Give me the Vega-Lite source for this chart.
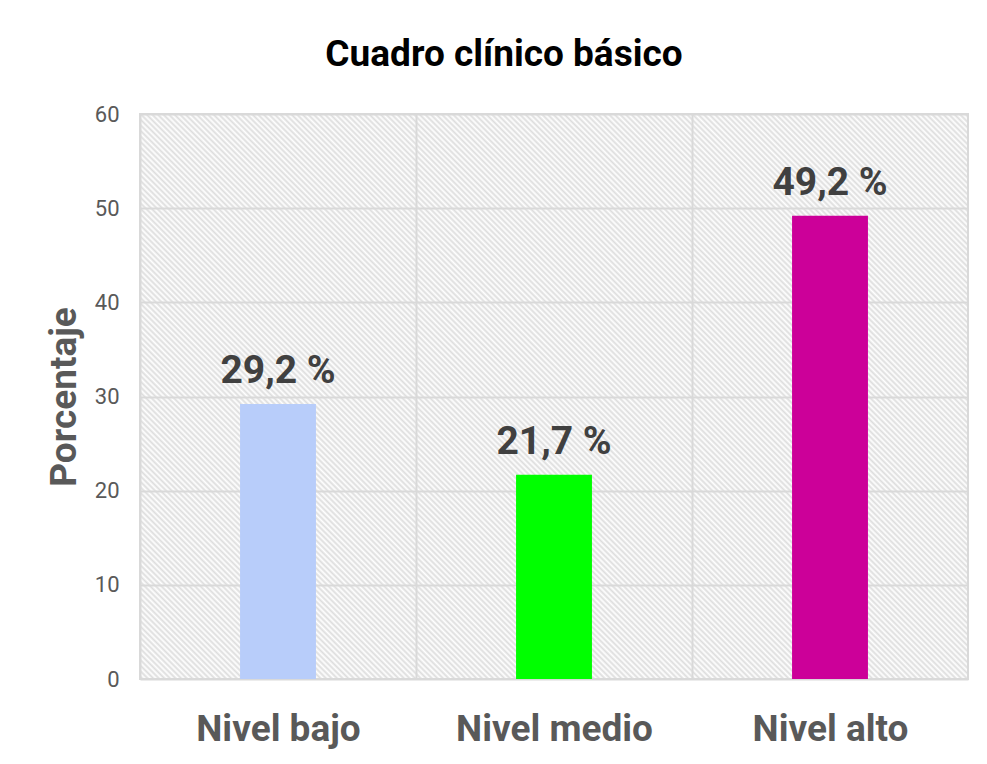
{
  "$schema": "https://vega.github.io/schema/vega-lite/v6.json",
  "width": 828,
  "height": 565,
  "autosize": "none",
  "padding": {"left": 140, "top": 114, "right": 19, "bottom": 85},
  "background": "white",
  "title": {
    "text": "Cuadro clínico básico",
    "fontSize": 37,
    "fontWeight": "bold",
    "color": "#000000",
    "font": "Roboto",
    "anchor": "middle",
    "frame": "group",
    "dx": -50,
    "baseline": "alphabetic",
    "offset": 0
  },
  "data": {
    "values": [
      {"nivel": "Nivel bajo", "pct": 29.2, "label": "29,2 %"},
      {"nivel": "Nivel medio", "pct": 21.7, "label": "21,7 %"},
      {"nivel": "Nivel alto", "pct": 49.2, "label": "49,2 %"}
    ]
  },
  "encoding": {
    "x": {
      "field": "nivel",
      "type": "nominal",
      "sort": ["Nivel bajo", "Nivel medio", "Nivel alto"],
      "scale": {"paddingInner": 0.725, "paddingOuter": 0.3625},
      "axis": {
        "title": null,
        "labelAngle": 0,
        "labelLimit": 0,
        "domain": false,
        "ticks": false,
        "tickSize": 0,
        "grid": true,
        "gridColor": "#d9d9d9",
        "gridWidth": 2,
        "tickOffset": -138,
        "labelOffset": 138,
        "labelPadding": 32,
        "labelFontSize": 37,
        "labelFontWeight": "bold",
        "labelColor": "#595959",
        "labelFont": "Roboto"
      }
    },
    "y": {
      "field": "pct",
      "type": "quantitative",
      "scale": {"domain": [0, 60], "nice": false},
      "axis": {
        "values": [0, 10, 20, 30, 40, 50, 60],
        "title": "Porcentaje",
        "grid": true,
        "gridColor": "#d9d9d9",
        "gridWidth": 2,
        "domain": false,
        "ticks": false,
        "tickSize": 0,
        "labelPadding": 21,
        "labelFontSize": 22,
        "labelColor": "#595959",
        "labelFont": "Roboto",
        "titleFontSize": 37,
        "titleFontWeight": "bold",
        "titleColor": "#595959",
        "titleFont": "Roboto",
        "titlePadding": 11
      }
    }
  },
  "layer": [
    {
      "mark": {"type": "bar"},
      "encoding": {
        "color": {
          "field": "nivel",
          "type": "nominal",
          "scale": {"domain": ["Nivel bajo", "Nivel medio", "Nivel alto"], "range": ["#b8cdfa", "#00ff00", "#cc0099"]},
          "legend": null
        }
      }
    },
    {
      "mark": {
        "type": "text",
        "baseline": "alphabetic",
        "dy": -21,
        "fontSize": 39,
        "fontWeight": "bold",
        "color": "#404040",
        "font": "Roboto"
      },
      "encoding": {"text": {"field": "label"}}
    }
  ],
  "config": {
    "view": {
      "stroke": "#d9d9d9",
      "strokeWidth": 2,
      "fill": {
        "gradient": "linear",
        "x1": -0.4656, "y1": 0.3177, "x2": 0.6823, "y2": -0.4656,
        "stops": [
{"offset":0,"color":"#fff"},{"offset":0.002,"color":"#ddd"},{"offset":0.004,"color":"#fff"},{"offset":0.006,"color":"#ddd"},{"offset":0.008,"color":"#fff"},
{"offset":0.01,"color":"#ddd"},{"offset":0.012,"color":"#fff"},{"offset":0.014,"color":"#ddd"},{"offset":0.016,"color":"#fff"},{"offset":0.018,"color":"#ddd"},
{"offset":0.02,"color":"#fff"},{"offset":0.022,"color":"#ddd"},{"offset":0.024,"color":"#fff"},{"offset":0.026,"color":"#ddd"},{"offset":0.028,"color":"#fff"},
{"offset":0.03,"color":"#ddd"},{"offset":0.032,"color":"#fff"},{"offset":0.034,"color":"#ddd"},{"offset":0.036,"color":"#fff"},{"offset":0.038,"color":"#ddd"},
{"offset":0.04,"color":"#fff"},{"offset":0.042,"color":"#ddd"},{"offset":0.044,"color":"#fff"},{"offset":0.046,"color":"#ddd"},{"offset":0.048,"color":"#fff"},
{"offset":0.05,"color":"#ddd"},{"offset":0.052,"color":"#fff"},{"offset":0.054,"color":"#ddd"},{"offset":0.056,"color":"#fff"},{"offset":0.058,"color":"#ddd"},
{"offset":0.06,"color":"#fff"},{"offset":0.062,"color":"#ddd"},{"offset":0.064,"color":"#fff"},{"offset":0.066,"color":"#ddd"},{"offset":0.068,"color":"#fff"},
{"offset":0.07,"color":"#ddd"},{"offset":0.072,"color":"#fff"},{"offset":0.074,"color":"#ddd"},{"offset":0.076,"color":"#fff"},{"offset":0.078,"color":"#ddd"},
{"offset":0.08,"color":"#fff"},{"offset":0.082,"color":"#ddd"},{"offset":0.084,"color":"#fff"},{"offset":0.086,"color":"#ddd"},{"offset":0.088,"color":"#fff"},
{"offset":0.09,"color":"#ddd"},{"offset":0.092,"color":"#fff"},{"offset":0.094,"color":"#ddd"},{"offset":0.096,"color":"#fff"},{"offset":0.098,"color":"#ddd"},
{"offset":0.1,"color":"#fff"},{"offset":0.102,"color":"#ddd"},{"offset":0.104,"color":"#fff"},{"offset":0.106,"color":"#ddd"},{"offset":0.108,"color":"#fff"},
{"offset":0.11,"color":"#ddd"},{"offset":0.112,"color":"#fff"},{"offset":0.114,"color":"#ddd"},{"offset":0.116,"color":"#fff"},{"offset":0.118,"color":"#ddd"},
{"offset":0.12,"color":"#fff"},{"offset":0.122,"color":"#ddd"},{"offset":0.124,"color":"#fff"},{"offset":0.126,"color":"#ddd"},{"offset":0.128,"color":"#fff"},
{"offset":0.13,"color":"#ddd"},{"offset":0.132,"color":"#fff"},{"offset":0.134,"color":"#ddd"},{"offset":0.136,"color":"#fff"},{"offset":0.138,"color":"#ddd"},
{"offset":0.14,"color":"#fff"},{"offset":0.142,"color":"#ddd"},{"offset":0.144,"color":"#fff"},{"offset":0.146,"color":"#ddd"},{"offset":0.148,"color":"#fff"},
{"offset":0.15,"color":"#ddd"},{"offset":0.152,"color":"#fff"},{"offset":0.154,"color":"#ddd"},{"offset":0.156,"color":"#fff"},{"offset":0.158,"color":"#ddd"},
{"offset":0.16,"color":"#fff"},{"offset":0.162,"color":"#ddd"},{"offset":0.164,"color":"#fff"},{"offset":0.166,"color":"#ddd"},{"offset":0.168,"color":"#fff"},
{"offset":0.17,"color":"#ddd"},{"offset":0.172,"color":"#fff"},{"offset":0.174,"color":"#ddd"},{"offset":0.176,"color":"#fff"},{"offset":0.178,"color":"#ddd"},
{"offset":0.18,"color":"#fff"},{"offset":0.182,"color":"#ddd"},{"offset":0.184,"color":"#fff"},{"offset":0.186,"color":"#ddd"},{"offset":0.188,"color":"#fff"},
{"offset":0.19,"color":"#ddd"},{"offset":0.192,"color":"#fff"},{"offset":0.194,"color":"#ddd"},{"offset":0.196,"color":"#fff"},{"offset":0.198,"color":"#ddd"},
{"offset":0.2,"color":"#fff"},{"offset":0.202,"color":"#ddd"},{"offset":0.204,"color":"#fff"},{"offset":0.206,"color":"#ddd"},{"offset":0.208,"color":"#fff"},
{"offset":0.21,"color":"#ddd"},{"offset":0.212,"color":"#fff"},{"offset":0.214,"color":"#ddd"},{"offset":0.216,"color":"#fff"},{"offset":0.218,"color":"#ddd"},
{"offset":0.22,"color":"#fff"},{"offset":0.222,"color":"#ddd"},{"offset":0.224,"color":"#fff"},{"offset":0.226,"color":"#ddd"},{"offset":0.228,"color":"#fff"},
{"offset":0.23,"color":"#ddd"},{"offset":0.232,"color":"#fff"},{"offset":0.234,"color":"#ddd"},{"offset":0.236,"color":"#fff"},{"offset":0.238,"color":"#ddd"},
{"offset":0.24,"color":"#fff"},{"offset":0.242,"color":"#ddd"},{"offset":0.244,"color":"#fff"},{"offset":0.246,"color":"#ddd"},{"offset":0.248,"color":"#fff"},
{"offset":0.25,"color":"#ddd"},{"offset":0.252,"color":"#fff"},{"offset":0.254,"color":"#ddd"},{"offset":0.256,"color":"#fff"},{"offset":0.258,"color":"#ddd"},
{"offset":0.26,"color":"#fff"},{"offset":0.262,"color":"#ddd"},{"offset":0.264,"color":"#fff"},{"offset":0.266,"color":"#ddd"},{"offset":0.268,"color":"#fff"},
{"offset":0.27,"color":"#ddd"},{"offset":0.272,"color":"#fff"},{"offset":0.274,"color":"#ddd"},{"offset":0.276,"color":"#fff"},{"offset":0.278,"color":"#ddd"},
{"offset":0.28,"color":"#fff"},{"offset":0.282,"color":"#ddd"},{"offset":0.284,"color":"#fff"},{"offset":0.286,"color":"#ddd"},{"offset":0.288,"color":"#fff"},
{"offset":0.29,"color":"#ddd"},{"offset":0.292,"color":"#fff"},{"offset":0.294,"color":"#ddd"},{"offset":0.296,"color":"#fff"},{"offset":0.298,"color":"#ddd"},
{"offset":0.3,"color":"#fff"},{"offset":0.302,"color":"#ddd"},{"offset":0.304,"color":"#fff"},{"offset":0.306,"color":"#ddd"},{"offset":0.308,"color":"#fff"},
{"offset":0.31,"color":"#ddd"},{"offset":0.312,"color":"#fff"},{"offset":0.314,"color":"#ddd"},{"offset":0.316,"color":"#fff"},{"offset":0.318,"color":"#ddd"},
{"offset":0.32,"color":"#fff"},{"offset":0.322,"color":"#ddd"},{"offset":0.324,"color":"#fff"},{"offset":0.326,"color":"#ddd"},{"offset":0.328,"color":"#fff"},
{"offset":0.33,"color":"#ddd"},{"offset":0.332,"color":"#fff"},{"offset":0.334,"color":"#ddd"},{"offset":0.336,"color":"#fff"},{"offset":0.338,"color":"#ddd"},
{"offset":0.34,"color":"#fff"},{"offset":0.342,"color":"#ddd"},{"offset":0.344,"color":"#fff"},{"offset":0.346,"color":"#ddd"},{"offset":0.348,"color":"#fff"},
{"offset":0.35,"color":"#ddd"},{"offset":0.352,"color":"#fff"},{"offset":0.354,"color":"#ddd"},{"offset":0.356,"color":"#fff"},{"offset":0.358,"color":"#ddd"},
{"offset":0.36,"color":"#fff"},{"offset":0.362,"color":"#ddd"},{"offset":0.364,"color":"#fff"},{"offset":0.366,"color":"#ddd"},{"offset":0.368,"color":"#fff"},
{"offset":0.37,"color":"#ddd"},{"offset":0.372,"color":"#fff"},{"offset":0.374,"color":"#ddd"},{"offset":0.376,"color":"#fff"},{"offset":0.378,"color":"#ddd"},
{"offset":0.38,"color":"#fff"},{"offset":0.382,"color":"#ddd"},{"offset":0.384,"color":"#fff"},{"offset":0.386,"color":"#ddd"},{"offset":0.388,"color":"#fff"},
{"offset":0.39,"color":"#ddd"},{"offset":0.392,"color":"#fff"},{"offset":0.394,"color":"#ddd"},{"offset":0.396,"color":"#fff"},{"offset":0.398,"color":"#ddd"},
{"offset":0.4,"color":"#fff"},{"offset":0.402,"color":"#ddd"},{"offset":0.404,"color":"#fff"},{"offset":0.406,"color":"#ddd"},{"offset":0.408,"color":"#fff"},
{"offset":0.41,"color":"#ddd"},{"offset":0.412,"color":"#fff"},{"offset":0.414,"color":"#ddd"},{"offset":0.416,"color":"#fff"},{"offset":0.418,"color":"#ddd"},
{"offset":0.42,"color":"#fff"},{"offset":0.422,"color":"#ddd"},{"offset":0.424,"color":"#fff"},{"offset":0.426,"color":"#ddd"},{"offset":0.428,"color":"#fff"},
{"offset":0.43,"color":"#ddd"},{"offset":0.432,"color":"#fff"},{"offset":0.434,"color":"#ddd"},{"offset":0.436,"color":"#fff"},{"offset":0.438,"color":"#ddd"},
{"offset":0.44,"color":"#fff"},{"offset":0.442,"color":"#ddd"},{"offset":0.444,"color":"#fff"},{"offset":0.446,"color":"#ddd"},{"offset":0.448,"color":"#fff"},
{"offset":0.45,"color":"#ddd"},{"offset":0.452,"color":"#fff"},{"offset":0.454,"color":"#ddd"},{"offset":0.456,"color":"#fff"},{"offset":0.458,"color":"#ddd"},
{"offset":0.46,"color":"#fff"},{"offset":0.462,"color":"#ddd"},{"offset":0.464,"color":"#fff"},{"offset":0.466,"color":"#ddd"},{"offset":0.468,"color":"#fff"},
{"offset":0.47,"color":"#ddd"},{"offset":0.472,"color":"#fff"},{"offset":0.474,"color":"#ddd"},{"offset":0.476,"color":"#fff"},{"offset":0.478,"color":"#ddd"},
{"offset":0.48,"color":"#fff"},{"offset":0.482,"color":"#ddd"},{"offset":0.484,"color":"#fff"},{"offset":0.486,"color":"#ddd"},{"offset":0.488,"color":"#fff"},
{"offset":0.49,"color":"#ddd"},{"offset":0.492,"color":"#fff"},{"offset":0.494,"color":"#ddd"},{"offset":0.496,"color":"#fff"},{"offset":0.498,"color":"#ddd"},
{"offset":0.5,"color":"#fff"},{"offset":0.502,"color":"#ddd"},{"offset":0.504,"color":"#fff"},{"offset":0.506,"color":"#ddd"},{"offset":0.508,"color":"#fff"},
{"offset":0.51,"color":"#ddd"},{"offset":0.512,"color":"#fff"},{"offset":0.514,"color":"#ddd"},{"offset":0.516,"color":"#fff"},{"offset":0.518,"color":"#ddd"},
{"offset":0.52,"color":"#fff"},{"offset":0.522,"color":"#ddd"},{"offset":0.524,"color":"#fff"},{"offset":0.526,"color":"#ddd"},{"offset":0.528,"color":"#fff"},
{"offset":0.53,"color":"#ddd"},{"offset":0.532,"color":"#fff"},{"offset":0.534,"color":"#ddd"},{"offset":0.536,"color":"#fff"},{"offset":0.538,"color":"#ddd"},
{"offset":0.54,"color":"#fff"},{"offset":0.542,"color":"#ddd"},{"offset":0.544,"color":"#fff"},{"offset":0.546,"color":"#ddd"},{"offset":0.548,"color":"#fff"},
{"offset":0.55,"color":"#ddd"},{"offset":0.552,"color":"#fff"},{"offset":0.554,"color":"#ddd"},{"offset":0.556,"color":"#fff"},{"offset":0.558,"color":"#ddd"},
{"offset":0.56,"color":"#fff"},{"offset":0.562,"color":"#ddd"},{"offset":0.564,"color":"#fff"},{"offset":0.566,"color":"#ddd"},{"offset":0.568,"color":"#fff"},
{"offset":0.57,"color":"#ddd"},{"offset":0.572,"color":"#fff"},{"offset":0.574,"color":"#ddd"},{"offset":0.576,"color":"#fff"},{"offset":0.578,"color":"#ddd"},
{"offset":0.58,"color":"#fff"},{"offset":0.582,"color":"#ddd"},{"offset":0.584,"color":"#fff"},{"offset":0.586,"color":"#ddd"},{"offset":0.588,"color":"#fff"},
{"offset":0.59,"color":"#ddd"},{"offset":0.592,"color":"#fff"},{"offset":0.594,"color":"#ddd"},{"offset":0.596,"color":"#fff"},{"offset":0.598,"color":"#ddd"},
{"offset":0.6,"color":"#fff"},{"offset":0.602,"color":"#ddd"},{"offset":0.604,"color":"#fff"},{"offset":0.606,"color":"#ddd"},{"offset":0.608,"color":"#fff"},
{"offset":0.61,"color":"#ddd"},{"offset":0.612,"color":"#fff"},{"offset":0.614,"color":"#ddd"},{"offset":0.616,"color":"#fff"},{"offset":0.618,"color":"#ddd"},
{"offset":0.62,"color":"#fff"},{"offset":0.622,"color":"#ddd"},{"offset":0.624,"color":"#fff"},{"offset":0.626,"color":"#ddd"},{"offset":0.628,"color":"#fff"},
{"offset":0.63,"color":"#ddd"},{"offset":0.632,"color":"#fff"},{"offset":0.634,"color":"#ddd"},{"offset":0.636,"color":"#fff"},{"offset":0.638,"color":"#ddd"},
{"offset":0.64,"color":"#fff"},{"offset":0.642,"color":"#ddd"},{"offset":0.644,"color":"#fff"},{"offset":0.646,"color":"#ddd"},{"offset":0.648,"color":"#fff"},
{"offset":0.65,"color":"#ddd"},{"offset":0.652,"color":"#fff"},{"offset":0.654,"color":"#ddd"},{"offset":0.656,"color":"#fff"},{"offset":0.658,"color":"#ddd"},
{"offset":0.66,"color":"#fff"},{"offset":0.662,"color":"#ddd"},{"offset":0.664,"color":"#fff"},{"offset":0.666,"color":"#ddd"},{"offset":0.668,"color":"#fff"},
{"offset":0.67,"color":"#ddd"},{"offset":0.672,"color":"#fff"},{"offset":0.674,"color":"#ddd"},{"offset":0.676,"color":"#fff"},{"offset":0.678,"color":"#ddd"},
{"offset":0.68,"color":"#fff"},{"offset":0.682,"color":"#ddd"},{"offset":0.684,"color":"#fff"},{"offset":0.686,"color":"#ddd"},{"offset":0.688,"color":"#fff"},
{"offset":0.69,"color":"#ddd"},{"offset":0.692,"color":"#fff"},{"offset":0.694,"color":"#ddd"},{"offset":0.696,"color":"#fff"},{"offset":0.698,"color":"#ddd"},
{"offset":0.7,"color":"#fff"},{"offset":0.702,"color":"#ddd"},{"offset":0.704,"color":"#fff"},{"offset":0.706,"color":"#ddd"},{"offset":0.708,"color":"#fff"},
{"offset":0.71,"color":"#ddd"},{"offset":0.712,"color":"#fff"},{"offset":0.714,"color":"#ddd"},{"offset":0.716,"color":"#fff"},{"offset":0.718,"color":"#ddd"},
{"offset":0.72,"color":"#fff"},{"offset":0.722,"color":"#ddd"},{"offset":0.724,"color":"#fff"},{"offset":0.726,"color":"#ddd"},{"offset":0.728,"color":"#fff"},
{"offset":0.73,"color":"#ddd"},{"offset":0.732,"color":"#fff"},{"offset":0.734,"color":"#ddd"},{"offset":0.736,"color":"#fff"},{"offset":0.738,"color":"#ddd"},
{"offset":0.74,"color":"#fff"},{"offset":0.742,"color":"#ddd"},{"offset":0.744,"color":"#fff"},{"offset":0.746,"color":"#ddd"},{"offset":0.748,"color":"#fff"},
{"offset":0.75,"color":"#ddd"},{"offset":0.752,"color":"#fff"},{"offset":0.754,"color":"#ddd"},{"offset":0.756,"color":"#fff"},{"offset":0.758,"color":"#ddd"},
{"offset":0.76,"color":"#fff"},{"offset":0.762,"color":"#ddd"},{"offset":0.764,"color":"#fff"},{"offset":0.766,"color":"#ddd"},{"offset":0.768,"color":"#fff"},
{"offset":0.77,"color":"#ddd"},{"offset":0.772,"color":"#fff"},{"offset":0.774,"color":"#ddd"},{"offset":0.776,"color":"#fff"},{"offset":0.778,"color":"#ddd"},
{"offset":0.78,"color":"#fff"},{"offset":0.782,"color":"#ddd"},{"offset":0.784,"color":"#fff"},{"offset":0.786,"color":"#ddd"},{"offset":0.788,"color":"#fff"},
{"offset":0.79,"color":"#ddd"},{"offset":0.792,"color":"#fff"},{"offset":0.794,"color":"#ddd"},{"offset":0.796,"color":"#fff"},{"offset":0.798,"color":"#ddd"},
{"offset":0.8,"color":"#fff"},{"offset":0.802,"color":"#ddd"},{"offset":0.804,"color":"#fff"},{"offset":0.806,"color":"#ddd"},{"offset":0.808,"color":"#fff"},
{"offset":0.81,"color":"#ddd"},{"offset":0.812,"color":"#fff"},{"offset":0.814,"color":"#ddd"},{"offset":0.816,"color":"#fff"},{"offset":0.818,"color":"#ddd"},
{"offset":0.82,"color":"#fff"},{"offset":0.822,"color":"#ddd"},{"offset":0.824,"color":"#fff"},{"offset":0.826,"color":"#ddd"},{"offset":0.828,"color":"#fff"},
{"offset":0.83,"color":"#ddd"},{"offset":0.832,"color":"#fff"},{"offset":0.834,"color":"#ddd"},{"offset":0.836,"color":"#fff"},{"offset":0.838,"color":"#ddd"},
{"offset":0.84,"color":"#fff"},{"offset":0.842,"color":"#ddd"},{"offset":0.844,"color":"#fff"},{"offset":0.846,"color":"#ddd"},{"offset":0.848,"color":"#fff"},
{"offset":0.85,"color":"#ddd"},{"offset":0.852,"color":"#fff"},{"offset":0.854,"color":"#ddd"},{"offset":0.856,"color":"#fff"},{"offset":0.858,"color":"#ddd"},
{"offset":0.86,"color":"#fff"},{"offset":0.862,"color":"#ddd"},{"offset":0.864,"color":"#fff"},{"offset":0.866,"color":"#ddd"},{"offset":0.868,"color":"#fff"},
{"offset":0.87,"color":"#ddd"},{"offset":0.872,"color":"#fff"},{"offset":0.874,"color":"#ddd"},{"offset":0.876,"color":"#fff"},{"offset":0.878,"color":"#ddd"},
{"offset":0.88,"color":"#fff"},{"offset":0.882,"color":"#ddd"},{"offset":0.884,"color":"#fff"},{"offset":0.886,"color":"#ddd"},{"offset":0.888,"color":"#fff"},
{"offset":0.89,"color":"#ddd"},{"offset":0.892,"color":"#fff"},{"offset":0.894,"color":"#ddd"},{"offset":0.896,"color":"#fff"},{"offset":0.898,"color":"#ddd"},
{"offset":0.9,"color":"#fff"},{"offset":0.902,"color":"#ddd"},{"offset":0.904,"color":"#fff"},{"offset":0.906,"color":"#ddd"},{"offset":0.908,"color":"#fff"},
{"offset":0.91,"color":"#ddd"},{"offset":0.912,"color":"#fff"},{"offset":0.914,"color":"#ddd"},{"offset":0.916,"color":"#fff"},{"offset":0.918,"color":"#ddd"},
{"offset":0.92,"color":"#fff"},{"offset":0.922,"color":"#ddd"},{"offset":0.924,"color":"#fff"},{"offset":0.926,"color":"#ddd"},{"offset":0.928,"color":"#fff"},
{"offset":0.93,"color":"#ddd"},{"offset":0.932,"color":"#fff"},{"offset":0.934,"color":"#ddd"},{"offset":0.936,"color":"#fff"},{"offset":0.938,"color":"#ddd"},
{"offset":0.94,"color":"#fff"},{"offset":0.942,"color":"#ddd"},{"offset":0.944,"color":"#fff"},{"offset":0.946,"color":"#ddd"},{"offset":0.948,"color":"#fff"},
{"offset":0.95,"color":"#ddd"},{"offset":0.952,"color":"#fff"},{"offset":0.954,"color":"#ddd"},{"offset":0.956,"color":"#fff"},{"offset":0.958,"color":"#ddd"},
{"offset":0.96,"color":"#fff"},{"offset":0.962,"color":"#ddd"},{"offset":0.964,"color":"#fff"},{"offset":0.966,"color":"#ddd"},{"offset":0.968,"color":"#fff"},
{"offset":0.97,"color":"#ddd"},{"offset":0.972,"color":"#fff"},{"offset":0.974,"color":"#ddd"},{"offset":0.976,"color":"#fff"},{"offset":0.978,"color":"#ddd"},
{"offset":0.98,"color":"#fff"},{"offset":0.982,"color":"#ddd"},{"offset":0.984,"color":"#fff"},{"offset":0.986,"color":"#ddd"},{"offset":0.988,"color":"#fff"},
{"offset":0.99,"color":"#ddd"},{"offset":0.992,"color":"#fff"},{"offset":0.994,"color":"#ddd"},{"offset":0.996,"color":"#fff"},{"offset":0.998,"color":"#ddd"},
{"offset":1,"color":"#fff"}
        ]
      }
    }
  }
}
